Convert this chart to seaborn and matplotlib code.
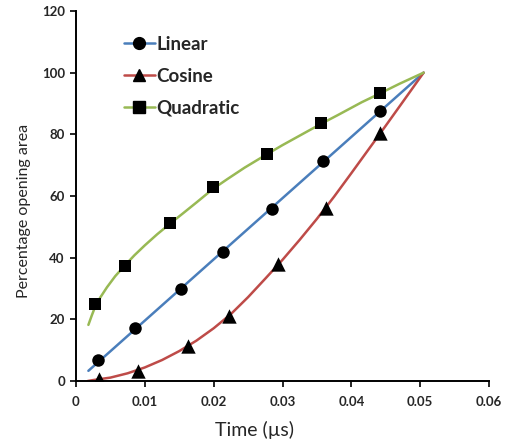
import matplotlib
matplotlib.use("Agg")
import matplotlib.pyplot as plt
from matplotlib.lines import Line2D
import seaborn as sns
import pandas as pd

sns.set_style("ticks")
plt.rcParams['font.family'] = ['Lato', 'DejaVu Sans']

# Curves
linear_t = [0.0018, 0.0505]
linear_v = [3.3, 100.0]

cosine_t = [0.0017, 0.0025, 0.005, 0.0075, 0.010, 0.0125, 0.015, 0.0175,
            0.020, 0.0225, 0.025, 0.0275, 0.030, 0.0325, 0.035, 0.0375,
            0.040, 0.0425, 0.045, 0.0475, 0.0505]
cosine_v = [0.0, 0.3, 1.1, 2.5, 4.4, 6.8, 9.7, 13.1,
            17.1, 21.7, 27.2, 33.2, 39.3, 45.8, 52.6, 59.8,
            67.4, 75.1, 82.8, 90.6, 100.0]

quad_t = [0.0018, 0.0023, 0.0028, 0.0035, 0.0045, 0.0057, 0.0071, 0.0085,
          0.010, 0.0118, 0.0137, 0.0155, 0.0175, 0.0199, 0.022, 0.0245,
          0.0277, 0.030, 0.033, 0.0356, 0.038, 0.0415, 0.0441, 0.047, 0.0505]
quad_v = [18.2, 21.3, 24.2, 27.0, 30.4, 34.0, 37.5, 40.8,
          44.0, 47.6, 51.1, 54.3, 57.9, 62.3, 65.5, 69.2,
          73.5, 76.5, 80.2, 83.4, 86.2, 90.4, 93.2, 96.4, 100.0]

# Markers
linear_mt = [0.0032, 0.0086, 0.0152, 0.0213, 0.0285, 0.0359, 0.0442]
linear_mv = [6.8, 17.1, 29.8, 42.0, 55.9, 71.4, 87.6]
cosine_mt = [0.0033, 0.0090, 0.0163, 0.0222, 0.0294, 0.0363, 0.0442]
cosine_mv = [0.6, 3.3, 11.3, 21.0, 38.0, 56.1, 80.3]
quad_mt = [0.0028, 0.0071, 0.0137, 0.0199, 0.0277, 0.0356, 0.0441]
quad_mv = [24.9, 37.3, 51.1, 62.8, 73.6, 83.7, 93.5]

labels = ["Linear", "Cosine", "Quadratic"]
colors = ["#4A7EBB", "#BE4B48", "#98B954"]
markers = ["o", "^", "s"]
msizes = [9, 9, 9]

x_ticks = [0, 0.01, 0.02, 0.03, 0.04, 0.05, 0.06]
x_ticklabels = ["0", "0.01", "0.02", "0.03", "0.04", "0.05", "0.06"]
y_ticks = [0, 20, 40, 60, 80, 100, 120]

fig = plt.figure(figsize=(5.14, 4.48), dpi=100)
ax = fig.add_axes([76/514, 1-381/448, (489-76)/514, (381-11)/448])

curves = [(linear_t, linear_v), (cosine_t, cosine_v), (quad_t, quad_v)]
marks = [(linear_mt, linear_mv), (cosine_mt, cosine_mv), (quad_mt, quad_mv)]

for (t, v), c in zip(curves, colors):
    df = pd.DataFrame({"t": t, "v": v})
    sns.lineplot(data=df, x="t", y="v", color=c, linewidth=1.8, ax=ax,
                 legend=False, sort=True, zorder=2)

for (t, v), m, s in zip(marks, markers, msizes):
    df = pd.DataFrame({"t": t, "v": v})
    area = (s * (1.15 if m == "^" else 1.0)) ** 2
    sns.scatterplot(data=df, x="t", y="v", marker=m, color="black", s=area,
                    edgecolor="black", linewidth=0, ax=ax, legend=False, zorder=3)

ax.set_xlim(0, 0.06)
ax.set_ylim(0, 120)
ax.set_xticks(x_ticks)
ax.set_xticklabels(x_ticklabels)
ax.set_yticks(y_ticks)
for lab in ax.get_xticklabels() + ax.get_yticklabels():
    lab.set_fontweight("bold")
    lab.set_fontsize(9.5)
ax.tick_params(axis="both", direction="out", length=4, width=1.2, color="black", pad=4)
ax.tick_params(axis="x", pad=7)
for sp in ["top", "right"]:
    ax.spines[sp].set_visible(False)
for sp in ["left", "bottom"]:
    ax.spines[sp].set_linewidth(1.4)
    ax.spines[sp].set_color("black")

ax.set_xlabel("Time (\u00b5s)", fontsize=14)
ax.set_ylabel("Percentage opening area", fontsize=11.5)
ax.xaxis.set_label_coords((254 - 76) / 413, (381 - 421) / 370)
ax.yaxis.set_label_coords((31 - 76) / 413, (381 - 211) / 370)

handles = [Line2D([0], [0], color=c, lw=1.8, marker=m, markersize=8.5,
                  markerfacecolor="black", markeredgecolor="black")
           for c, m in zip(colors, markers)]
leg = fig.legend(handles, labels, loc="upper left", bbox_to_anchor=(118/514, 1-30/448),
                 frameon=False, handlelength=1.65, handletextpad=0.1,
                 labelspacing=0.8, borderpad=0.3, borderaxespad=0,
                 prop={"weight": "bold", "size": 13.5})

fig.savefig("out.png", dpi=100)
